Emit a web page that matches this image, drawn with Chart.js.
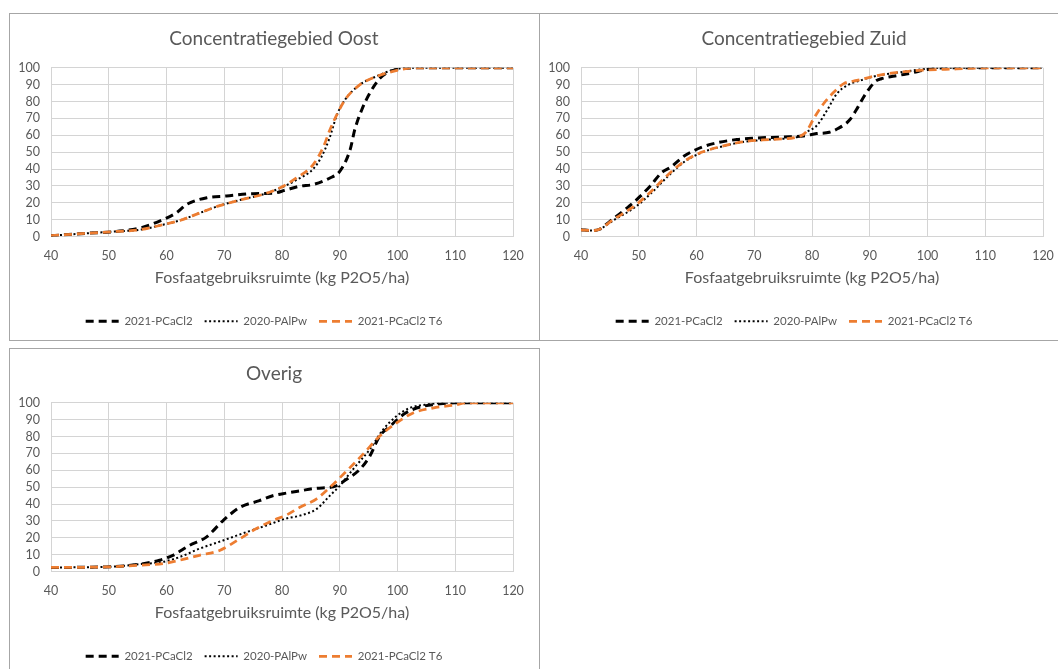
<!DOCTYPE html>
<html><head><meta charset="utf-8">
<script src="https://cdn.jsdelivr.net/npm/chart.js@4/dist/chart.umd.min.js"></script>
<style>
html,body{margin:0;padding:0;background:#fff;overflow:hidden;width:1058px;height:669px;}
.panel{position:absolute;box-sizing:border-box;border:1px solid #a6a6a6;pointer-events:none;}
canvas{position:absolute;}
</style></head><body>
<canvas id="c1" width="530" height="327" style="left:9px;top:13px;width:530px;height:327px"></canvas>
<canvas id="c2" width="530" height="327" style="left:539px;top:13px;width:530px;height:327px"></canvas>
<canvas id="c3" width="530" height="327" style="left:9px;top:348px;width:530px;height:327px"></canvas>
<div class="panel" style="left:9px;top:13px;width:531px;height:328px"></div>
<div class="panel" style="left:539px;top:13px;width:531px;height:328px"></div>
<div class="panel" style="left:9px;top:348px;width:531px;height:330px"></div>
<script>
// ---- data ----
const seriesNames = ['2021-PCaCl2', '2020-PAlPw', '2021-PCaCl2 T6'];
const panelTitles = ['Concentratiegebied Oost', 'Concentratiegebied Zuid', 'Overig'];
const xAxisTitle = 'Fosfaatgebruiksruimte (kg P2O5/ha)';
const xTicks = [40, 50, 60, 70, 80, 90, 100, 110, 120];
const yTicks = [0, 10, 20, 30, 40, 50, 60, 70, 80, 90, 100];

// Oost
const oostPcacl2X = [40, 46.6, 51.3, 55.4, 59.4, 61.7, 63.5, 67, 70.4, 75, 78.4, 80.7, 83.1, 85.4, 88.3, 90, 91.8, 92.6, 93.8, 95.2, 97, 98.7, 100.7, 103, 120];
const oostPcacl2Y = [0.5, 2, 3, 5, 10, 14, 19, 23, 24, 25.4, 25.6, 27.6, 29.8, 30.8, 34.7, 38.6, 51.5, 63.3, 75, 85, 93.9, 97.8, 99.4, 100, 100];
const oostPalpwX = [40, 46.6, 51.3, 55.4, 59.4, 62.3, 65.8, 69.2, 72.7, 77.3, 80.2, 82.5, 85.4, 86.8, 88.2, 89.5, 90.9, 93.5, 96.4, 99.5, 102, 120];
const oostPalpwY = [0.5, 2, 3, 4, 7, 9.5, 14, 18.3, 21.6, 25.6, 29.5, 33.5, 40, 47, 58, 72, 81, 90, 95, 99, 100, 100];
const oostT6X = [40, 46.6, 51.3, 55.4, 59.4, 62.3, 65.8, 69.2, 72.7, 77.3, 80.2, 82.5, 85.4, 87.2, 88.3, 89.5, 90.9, 93.5, 96.4, 100.4, 103, 120];
const oostT6Y = [0.5, 2, 3, 4, 7, 9.5, 14, 18.3, 21.6, 25.6, 29.8, 34.7, 42.6, 53.4, 63.3, 72.2, 81, 90, 94.9, 98.8, 100, 100];

// Zuid
const zuidPcacl2X = [40, 42, 43.2, 45, 48, 50, 52, 54, 55.5, 58, 61, 63.5, 67, 70, 75, 78.5, 80.8, 83, 84.5, 86.5, 88, 89, 90, 91, 92, 95, 97.3, 100, 103, 120];
const zuidPcacl2Y = [4, 3.5, 4.3, 9, 17, 23, 30, 38, 41, 48, 53, 55.5, 57.5, 58.3, 59, 59.6, 61, 61.8, 64, 69, 77, 83, 88, 92, 93.5, 95.5, 97, 99, 100, 100];
const zuidPalpwX = [40, 42, 43.2, 45.5, 49.5, 52.4, 55.3, 58.2, 61.1, 64, 68, 72.7, 78, 79.1, 80.9, 82.6, 84.3, 86.1, 88.4, 90.7, 95.3, 99.9, 102, 120];
const zuidPalpwY = [4, 3.5, 4.3, 9.3, 17.7, 26.5, 36.5, 45, 50, 53, 56, 57.5, 59.5, 62, 66, 74.8, 84.6, 89.6, 92.5, 94.9, 97.4, 99.4, 100, 100];
const zuidT6X = [40, 42, 43.2, 45.5, 49.5, 52.4, 55.3, 58.2, 61.1, 64, 68, 72.7, 77.9, 79, 80.3, 82, 83.8, 85.5, 87.8, 90.1, 93, 97, 100, 105, 110, 120];
const zuidT6Y = [4, 3.5, 4.3, 9.8, 18.7, 27.6, 37.4, 45.3, 50.2, 53.1, 56.1, 57.5, 59.4, 62, 69.9, 78.7, 85.6, 90.6, 92.5, 94.5, 96.5, 98, 98.7, 99.3, 100, 100];

// Overig
const overigPcacl2X = [40, 49.5, 55.3, 58.8, 61.1, 64, 66.9, 69.8, 72.7, 76.1, 78.4, 80.8, 83.1, 86, 88.9, 91.2, 93.5, 95.2, 96.9, 98.7, 101, 103.3, 107.4, 110, 120];
const overigPcacl2Y = [2.4, 2.7, 4.3, 6.7, 9.6, 15.5, 20.4, 30.2, 38, 42, 44.9, 46.5, 47.8, 49.4, 50.2, 54.7, 60.6, 68.4, 80.2, 86.1, 93, 96.9, 99.4, 100, 100];
const overigPalpwX = [40, 49.5, 55.3, 59.4, 62.3, 65.7, 69.8, 73.8, 77.3, 80.8, 83.1, 86, 88.3, 90, 92.3, 95.2, 97.5, 99.8, 102.1, 105.5, 108, 120];
const overigPalpwY = [2.4, 2.7, 4.3, 5.7, 8.6, 13.5, 18.4, 23.3, 27.3, 31.5, 33.1, 37.1, 45, 50.8, 60.6, 72.4, 84.1, 92, 96.9, 99.2, 100, 100];
const overigT6X = [40, 49.5, 55.3, 59.4, 62.3, 65.7, 69.2, 72.7, 75.5, 78.4, 80.8, 83.1, 86, 88.3, 91.2, 94, 96.9, 99.8, 102.7, 106.1, 110.1, 112, 120];
const overigT6Y = [2.4, 2.7, 3.7, 4.7, 6.7, 9.6, 12.5, 19.4, 25.3, 30.2, 33.5, 38.1, 43.1, 49.9, 59.6, 69.4, 80.2, 88, 94, 96.9, 98.8, 100, 100];

// ---- chart building ----
const FONT = 'Lato';
const TEXT = '#595959';
const GRID = '#d4d4d4';
const styles = [
  {borderColor: '#000000', borderWidth: 3, borderDash: [8, 5], borderCapStyle: 'butt', order: 3},
  {borderColor: '#000000', borderWidth: 2, borderDash: [2, 2.5], borderCapStyle: 'butt', order: 2},
  {borderColor: '#ED7D31', borderWidth: 2.75, borderDash: [8, 5], borderCapStyle: 'butt', order: 1}
];
function pts(xs, ys) { return xs.map((x, i) => ({x: x, y: ys[i]})); }

const legendShift = {
  id: 'legendShift',
  afterLayout(chart) {
    const lg = chart.legend;
    if (lg && !lg._shifted) { lg.left -= 10; lg.right -= 10; lg._shifted = true; }
  }
};

function legendLabels(chart) {
  const items = Chart.defaults.plugins.legend.labels.generateLabels(chart);
  items.forEach(it => {
    const ds = chart.data.datasets[it.datasetIndex];
    it.lineDash = ds.borderDash;
    it.lineWidth = ds.borderWidth;
    it.strokeStyle = ds.borderColor;
    it.fillStyle = ds.borderColor;
    it.lineCap = 'butt';
    it.pointStyle = 'line';
  });
  return items;
}

function makeChart(id, title, seriesXY) {
  const datasets = seriesXY.map((s, i) => Object.assign({
    label: seriesNames[i],
    data: pts(s[0], s[1]),
    pointRadius: 0,
    fill: false,
    cubicInterpolationMode: 'monotone',
    backgroundColor: styles[i].borderColor
  }, styles[i]));
  new Chart(document.getElementById(id), {
    type: 'line',
    data: {datasets: datasets},
    plugins: [legendShift],
    options: {
      responsive: false,
      animation: false,
      devicePixelRatio: 1,
      layout: {padding: {left: 0, right: 0, top: 0, bottom: 3}},
      plugins: {
        tooltip: {enabled: false},
        title: {
          display: true, text: title, color: TEXT,
          font: {family: FONT, size: 19, weight: 'normal'},
          padding: {top: 14, bottom: 18}
        },
        legend: {
          position: 'bottom',
          labels: {
            color: TEXT, font: {family: FONT, size: 11.5},
            usePointStyle: true, pointStyle: 'line', pointStyleWidth: 33,
            padding: 12,
            generateLabels: legendLabels,
            sort: (a, b) => a.datasetIndex - b.datasetIndex
          }
        }
      },
      scales: {
        x: {
          type: 'linear', min: 40, max: 120,
          afterBuildTicks: s => { s.ticks = xTicks.map(v => ({value: v})); },
          afterFit: s => { s.paddingRight = 26; s.height = 67; },
          grid: {color: GRID, lineWidth: 1, drawTicks: false},
          border: {color: GRID, width: 1},
          ticks: {color: TEXT, font: {family: FONT, size: 12.5}, padding: 12, maxRotation: 0, autoSkip: false},
          title: {display: true, text: xAxisTitle, color: TEXT,
                  font: {family: FONT, size: 16}, padding: {top: 4, bottom: 16}}
        },
        y: {
          type: 'linear', min: 0, max: 100,
          afterBuildTicks: s => { s.ticks = yTicks.map(v => ({value: v})); },
          afterFit: s => { s.width = 42; },
          grid: {color: GRID, lineWidth: 1, drawTicks: false},
          border: {color: GRID, width: 1},
          ticks: {color: TEXT, font: {family: FONT, size: 12.5}, padding: 11, autoSkip: false}
        }
      }
    }
  });
}

makeChart('c1', panelTitles[0], [[oostPcacl2X, oostPcacl2Y], [oostPalpwX, oostPalpwY], [oostT6X, oostT6Y]]);
makeChart('c2', panelTitles[1], [[zuidPcacl2X, zuidPcacl2Y], [zuidPalpwX, zuidPalpwY], [zuidT6X, zuidT6Y]]);
makeChart('c3', panelTitles[2], [[overigPcacl2X, overigPcacl2Y], [overigPalpwX, overigPalpwY], [overigT6X, overigT6Y]]);
</script>
</body></html>
